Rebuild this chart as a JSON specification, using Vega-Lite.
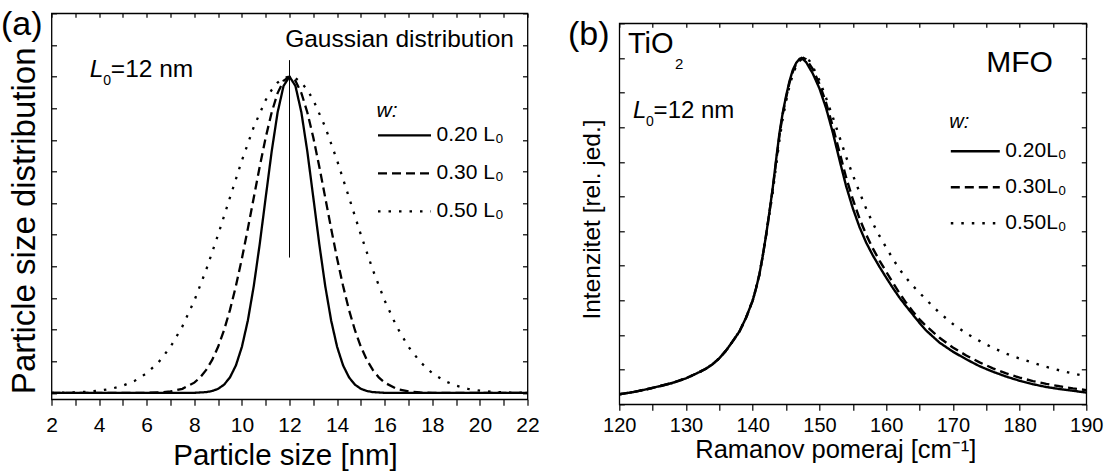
{
"$schema":"https://vega.github.io/schema/vega-lite/v6.json",
"autosize":{"type":"none"},
"padding":{"left":51.5,"top":13.3,"right":1053.5,"bottom":458.7},
"background":"white",
"config":{
 "font":"Liberation Sans",
 "view":{"stroke":"black","strokeWidth":1.3},
 "axis":{"grid":false,"domain":false,"tickColor":"black","tickWidth":1.2,"labelColor":"black","titleColor":"black","titleFontWeight":"normal","labelFont":"Liberation Sans","titleFont":"Liberation Sans"},
 "legend":{"labelColor":"black","titleColor":"black","labelFont":"Liberation Sans","titleFont":"Liberation Sans"},
 "text":{"fill":"black","font":"Liberation Sans","fontWeight":"normal"}
},
"bounds":"flush",
"spacing":91.8,
"resolve":{"scale":{"x":"independent","y":"independent","strokeDash":"independent"},"legend":{"strokeDash":"independent"}},
"hconcat":[
{
 "width":476,"height":386,
 "resolve":{"axis":{"x":"independent","y":"independent"}},
 "layer":[
  {"data":{"name":"ga","values":[
  {"w":"0.20 L₀","x":2,"y":0},{"w":"0.20 L₀","x":7,"y":0},{"w":"0.20 L₀","x":8,"y":0.0005},{"w":"0.20 L₀","x":8.5,"y":0.0027},{"w":"0.20 L₀","x":8.75,"y":0.0062},{"w":"0.20 L₀","x":9,"y":0.0131},{"w":"0.20 L₀","x":9.25,"y":0.0262},{"w":"0.20 L₀","x":9.5,"y":0.0494},{"w":"0.20 L₀","x":9.75,"y":0.0874},{"w":"0.20 L₀","x":10,"y":0.1458},{"w":"0.20 L₀","x":10.25,"y":0.229},{"w":"0.20 L₀","x":10.5,"y":0.3386},{"w":"0.20 L₀","x":10.75,"y":0.4714},{"w":"0.20 L₀","x":11,"y":0.6179},{"w":"0.20 L₀","x":11.25,"y":0.7628},{"w":"0.20 L₀","x":11.5,"y":0.8866},{"w":"0.20 L₀","x":11.75,"y":0.9704},{"w":"0.20 L₀","x":12,"y":1},{"w":"0.20 L₀","x":12.25,"y":0.9704},{"w":"0.20 L₀","x":12.5,"y":0.8866},{"w":"0.20 L₀","x":12.75,"y":0.7628},{"w":"0.20 L₀","x":13,"y":0.6179},{"w":"0.20 L₀","x":13.25,"y":0.4714},{"w":"0.20 L₀","x":13.5,"y":0.3386},{"w":"0.20 L₀","x":13.75,"y":0.229},{"w":"0.20 L₀","x":14,"y":0.1458},{"w":"0.20 L₀","x":14.25,"y":0.0874},{"w":"0.20 L₀","x":14.5,"y":0.0494},{"w":"0.20 L₀","x":14.75,"y":0.0262},{"w":"0.20 L₀","x":15,"y":0.0131},{"w":"0.20 L₀","x":15.25,"y":0.0062},{"w":"0.20 L₀","x":15.5,"y":0.0027},{"w":"0.20 L₀","x":16,"y":0.0005},{"w":"0.20 L₀","x":17,"y":0},{"w":"0.20 L₀","x":22,"y":0},
  {"w":"0.30 L₀","x":2,"y":0},{"w":"0.30 L₀","x":5,"y":0},{"w":"0.30 L₀","x":6,"y":0.0005},{"w":"0.30 L₀","x":6.5,"y":0.0015},{"w":"0.30 L₀","x":7,"y":0.0048},{"w":"0.30 L₀","x":7.5,"y":0.0131},{"w":"0.30 L₀","x":8,"y":0.0326},{"w":"0.30 L₀","x":8.25,"y":0.0494},{"w":"0.30 L₀","x":8.5,"y":0.0728},{"w":"0.30 L₀","x":8.75,"y":0.1044},{"w":"0.30 L₀","x":9,"y":0.1458},{"w":"0.30 L₀","x":9.25,"y":0.1983},{"w":"0.30 L₀","x":9.5,"y":0.2626},{"w":"0.30 L₀","x":9.75,"y":0.3386},{"w":"0.30 L₀","x":10,"y":0.425},{"w":"0.30 L₀","x":10.25,"y":0.5194},{"w":"0.30 L₀","x":10.5,"y":0.618},{"w":"0.30 L₀","x":10.75,"y":0.7159},{"w":"0.30 L₀","x":11,"y":0.8074},{"w":"0.30 L₀","x":11.25,"y":0.8866},{"w":"0.30 L₀","x":11.5,"y":0.9479},{"w":"0.30 L₀","x":11.75,"y":0.9867},{"w":"0.30 L₀","x":12,"y":1},{"w":"0.30 L₀","x":12.25,"y":0.9867},{"w":"0.30 L₀","x":12.5,"y":0.9479},{"w":"0.30 L₀","x":12.75,"y":0.8866},{"w":"0.30 L₀","x":13,"y":0.8074},{"w":"0.30 L₀","x":13.25,"y":0.7159},{"w":"0.30 L₀","x":13.5,"y":0.618},{"w":"0.30 L₀","x":13.75,"y":0.5194},{"w":"0.30 L₀","x":14,"y":0.425},{"w":"0.30 L₀","x":14.25,"y":0.3386},{"w":"0.30 L₀","x":14.5,"y":0.2626},{"w":"0.30 L₀","x":14.75,"y":0.1983},{"w":"0.30 L₀","x":15,"y":0.1458},{"w":"0.30 L₀","x":15.25,"y":0.1044},{"w":"0.30 L₀","x":15.5,"y":0.0728},{"w":"0.30 L₀","x":15.75,"y":0.0494},{"w":"0.30 L₀","x":16,"y":0.0326},{"w":"0.30 L₀","x":16.5,"y":0.0131},{"w":"0.30 L₀","x":17,"y":0.0048},{"w":"0.30 L₀","x":17.5,"y":0.0015},{"w":"0.30 L₀","x":18,"y":0.0005},{"w":"0.30 L₀","x":19,"y":0},{"w":"0.30 L₀","x":22,"y":0},
  {"w":"0.50 L₀","x":2,"y":0.0005},{"w":"0.50 L₀","x":2.5,"y":0.001},{"w":"0.50 L₀","x":3,"y":0.002},{"w":"0.50 L₀","x":3.5,"y":0.0038},{"w":"0.50 L₀","x":4,"y":0.0072},{"w":"0.50 L₀","x":4.5,"y":0.0131},{"w":"0.50 L₀","x":5,"y":0.023},{"w":"0.50 L₀","x":5.5,"y":0.0386},{"w":"0.50 L₀","x":6,"y":0.0625},{"w":"0.50 L₀","x":6.5,"y":0.0973},{"w":"0.50 L₀","x":7,"y":0.1458},{"w":"0.50 L₀","x":7.5,"y":0.2103},{"w":"0.50 L₀","x":8,"y":0.2917},{"w":"0.50 L₀","x":8.5,"y":0.3893},{"w":"0.50 L₀","x":9,"y":0.5},{"w":"0.50 L₀","x":9.5,"y":0.6179},{"w":"0.50 L₀","x":10,"y":0.7349},{"w":"0.50 L₀","x":10.5,"y":0.8409},{"w":"0.50 L₀","x":11,"y":0.9259},{"w":"0.50 L₀","x":11.25,"y":0.9576},{"w":"0.50 L₀","x":11.5,"y":0.9809},{"w":"0.50 L₀","x":11.75,"y":0.9952},{"w":"0.50 L₀","x":12,"y":1},{"w":"0.50 L₀","x":12.25,"y":0.9952},{"w":"0.50 L₀","x":12.5,"y":0.9809},{"w":"0.50 L₀","x":12.75,"y":0.9576},{"w":"0.50 L₀","x":13,"y":0.9259},{"w":"0.50 L₀","x":13.5,"y":0.8409},{"w":"0.50 L₀","x":14,"y":0.7349},{"w":"0.50 L₀","x":14.5,"y":0.6179},{"w":"0.50 L₀","x":15,"y":0.5},{"w":"0.50 L₀","x":15.5,"y":0.3893},{"w":"0.50 L₀","x":16,"y":0.2917},{"w":"0.50 L₀","x":16.5,"y":0.2103},{"w":"0.50 L₀","x":17,"y":0.1458},{"w":"0.50 L₀","x":17.5,"y":0.0973},{"w":"0.50 L₀","x":18,"y":0.0625},{"w":"0.50 L₀","x":18.5,"y":0.0386},{"w":"0.50 L₀","x":19,"y":0.023},{"w":"0.50 L₀","x":19.5,"y":0.0131},{"w":"0.50 L₀","x":20,"y":0.0072},{"w":"0.50 L₀","x":20.5,"y":0.0038},{"w":"0.50 L₀","x":21,"y":0.002},{"w":"0.50 L₀","x":21.5,"y":0.001},{"w":"0.50 L₀","x":22,"y":0.0005}
  ]},
   "mark":{"type":"line","strokeWidth":2.3,"color":"black"},
   "encoding":{
    "x":{"field":"x","type":"quantitative","scale":{"domain":[2,22],"nice":false,"zero":false},
      "axis":{"orient":"bottom","values":[2,3,4,5,6,7,8,9,10,11,12,13,14,15,16,17,18,19,20,21,22],"labelExpr":"datum.value % 2 === 0 ? datum.label : ''","tickSize":6,"labelFontSize":21,"labelPadding":9,"labelFlush":false,"labelOverlap":false,"title":"Particle size [nm]","titleFontSize":29.5,"titleX":233.5,"titleY":64.7,"titleBaseline":"alphabetic","titleAlign":"center"}},
    "y":{"field":"y","type":"quantitative","scale":{"domain":[-0.02,1.2],"nice":false,"zero":false},
      "axis":{"orient":"left","values":[0,0.1,0.2,0.3,0.4,0.5,0.6,0.7,0.8,0.9,1,1.1,1.2],"labels":false,"tickSize":-5,"title":"Particle size distribution","titleFontSize":33,"titleX":-17,"titleY":207,"titleBaseline":"alphabetic","titleAlign":"center","titleAngle":270}},
    "strokeDash":{"field":"w","type":"nominal","scale":{"domain":["0.20 L₀","0.30 L₀","0.50 L₀"],"range":[[1,0],[9,5],[2.5,8]]},
      "legend":{"title":"w:","orient":"none","legendX":325,"legendY":87,"symbolType":"stroke","symbolSize":2809,"symbolStrokeWidth":2.3,"symbolStrokeColor":"black","labelFontSize":21,"titleFontSize":21,"titleFontStyle":"italic","titleFontWeight":"normal","labelOffset":4,"rowPadding":-6.5,"titlePadding":-14}}
   }},
  {"data":{"name":"ga"},
   "mark":{"type":"point","opacity":0},
   "encoding":{
    "x":{"field":"x","type":"quantitative","axis":{"orient":"top","values":[2,3,4,5,6,7,8,9,10,11,12,13,14,15,16,17,18,19,20,21,22],"labels":false,"tickSize":-4,"title":null}},
    "y":{"field":"y","type":"quantitative","axis":{"orient":"right","values":[0,0.1,0.2,0.3,0.4,0.5,0.6,0.7,0.8,0.9,1,1.1,1.2],"labels":false,"tickSize":-5,"title":null}}
   }},
  {"data":{"values":[{}]},
   "mark":{"type":"rule","strokeWidth":1,"color":"black"},
   "encoding":{"x":{"datum":12,"type":"quantitative","axis":null},"y":{"datum":1.052,"type":"quantitative","axis":null},"y2":{"datum":0.428}}},
  {"data":{"values":[{}]},
   "mark":{"type":"text","text":"(a)","fontSize":34,"fontWeight":"normal","align":"left","baseline":"alphabetic"},
   "encoding":{"x":{"datum":-0.12,"type":"quantitative","axis":null},"y":{"datum":1.132,"type":"quantitative","axis":null}}},
  {"data":{"values":[{}]},
   "mark":{"type":"text","text":"Gaussian distribution","fontSize":24.5,"fontWeight":"normal","align":"right","baseline":"alphabetic"},
   "encoding":{"x":{"datum":21.43,"type":"quantitative","axis":null},"y":{"datum":1.094,"type":"quantitative","axis":null}}},
  {"data":{"values":[{}]},
   "mark":{"type":"text","text":"L","fontSize":24.5,"fontWeight":"normal","fontStyle":"italic","align":"left","baseline":"alphabetic"},
   "encoding":{"x":{"datum":3.61,"type":"quantitative","axis":null},"y":{"datum":1.0,"type":"quantitative","axis":null}}},
  {"data":{"values":[{}]},
   "mark":{"type":"text","text":"0","fontSize":14,"fontWeight":"normal","align":"left","baseline":"alphabetic","dx":13.5,"dy":8},
   "encoding":{"x":{"datum":3.61,"type":"quantitative","axis":null},"y":{"datum":1.0,"type":"quantitative","axis":null}}},
  {"data":{"values":[{}]},
   "mark":{"type":"text","text":"=12 nm","fontSize":24.5,"fontWeight":"normal","align":"left","baseline":"alphabetic","dx":21},
   "encoding":{"x":{"datum":3.61,"type":"quantitative","axis":null},"y":{"datum":1.0,"type":"quantitative","axis":null}}}
 ]
},
{
 "spacing":0,
 "bounds":"flush",
 "resolve":{"scale":{"x":"independent","y":"independent","strokeDash":"independent"},"legend":{"strokeDash":"independent"}},
 "vconcat":[
  {"width":1,"height":10,"view":{"stroke":null},"data":{"values":[{"a":1}]},"mark":{"type":"point","opacity":0},"encoding":{}},
  {
   "width":467,"height":381,
   "resolve":{"axis":{"x":"independent","y":"independent"}},
   "layer":[
    {"data":{"name":"rb","values":[
    {"w":"0.20L₀","x":120,"y":0.029},{"w":"0.20L₀","x":122,"y":0.035},{"w":"0.20L₀","x":124,"y":0.043},{"w":"0.20L₀","x":126,"y":0.052},{"w":"0.20L₀","x":128,"y":0.062},{"w":"0.20L₀","x":130,"y":0.075},{"w":"0.20L₀","x":132,"y":0.093},{"w":"0.20L₀","x":133,"y":0.103},{"w":"0.20L₀","x":134,"y":0.116},{"w":"0.20L₀","x":135,"y":0.133},{"w":"0.20L₀","x":136,"y":0.155},{"w":"0.20L₀","x":137,"y":0.182},{"w":"0.20L₀","x":138,"y":0.21},{"w":"0.20L₀","x":139,"y":0.25},{"w":"0.20L₀","x":140,"y":0.3},{"w":"0.20L₀","x":140.5,"y":0.335},{"w":"0.20L₀","x":141,"y":0.375},{"w":"0.20L₀","x":141.5,"y":0.428},{"w":"0.20L₀","x":142,"y":0.488},{"w":"0.20L₀","x":142.5,"y":0.555},{"w":"0.20L₀","x":143,"y":0.625},{"w":"0.20L₀","x":143.5,"y":0.705},{"w":"0.20L₀","x":144,"y":0.782},{"w":"0.20L₀","x":144.5,"y":0.842},{"w":"0.20L₀","x":145,"y":0.89},{"w":"0.20L₀","x":145.5,"y":0.932},{"w":"0.20L₀","x":146,"y":0.965},{"w":"0.20L₀","x":146.5,"y":0.985},{"w":"0.20L₀","x":147,"y":0.997},{"w":"0.20L₀","x":147.3,"y":1},{"w":"0.20L₀","x":148,"y":0.988},{"w":"0.20L₀","x":149,"y":0.955},{"w":"0.20L₀","x":150,"y":0.912},{"w":"0.20L₀","x":151,"y":0.855},{"w":"0.20L₀","x":152,"y":0.785},{"w":"0.20L₀","x":153,"y":0.706},{"w":"0.20L₀","x":154,"y":0.63},{"w":"0.20L₀","x":155,"y":0.566},{"w":"0.20L₀","x":156,"y":0.512},{"w":"0.20L₀","x":157,"y":0.467},{"w":"0.20L₀","x":158,"y":0.43},{"w":"0.20L₀","x":159,"y":0.397},{"w":"0.20L₀","x":160,"y":0.366},{"w":"0.20L₀","x":161,"y":0.336},{"w":"0.20L₀","x":162,"y":0.308},{"w":"0.20L₀","x":163,"y":0.283},{"w":"0.20L₀","x":164,"y":0.259},{"w":"0.20L₀","x":165,"y":0.235},{"w":"0.20L₀","x":166,"y":0.213},{"w":"0.20L₀","x":168,"y":0.178},{"w":"0.20L₀","x":170,"y":0.152},{"w":"0.20L₀","x":172,"y":0.13},{"w":"0.20L₀","x":174,"y":0.11},{"w":"0.20L₀","x":176,"y":0.094},{"w":"0.20L₀","x":178,"y":0.08},{"w":"0.20L₀","x":180,"y":0.068},{"w":"0.20L₀","x":182,"y":0.058},{"w":"0.20L₀","x":184,"y":0.05},{"w":"0.20L₀","x":186,"y":0.044},{"w":"0.20L₀","x":188,"y":0.039},{"w":"0.20L₀","x":190,"y":0.034},
    {"w":"0.30L₀","x":120,"y":0.029},{"w":"0.30L₀","x":122,"y":0.035},{"w":"0.30L₀","x":124,"y":0.043},{"w":"0.30L₀","x":126,"y":0.052},{"w":"0.30L₀","x":128,"y":0.062},{"w":"0.30L₀","x":130,"y":0.075},{"w":"0.30L₀","x":132,"y":0.093},{"w":"0.30L₀","x":133,"y":0.103},{"w":"0.30L₀","x":134,"y":0.116},{"w":"0.30L₀","x":135,"y":0.133},{"w":"0.30L₀","x":136,"y":0.155},{"w":"0.30L₀","x":137,"y":0.182},{"w":"0.30L₀","x":138,"y":0.21},{"w":"0.30L₀","x":139,"y":0.25},{"w":"0.30L₀","x":140,"y":0.3},{"w":"0.30L₀","x":140.5,"y":0.335},{"w":"0.30L₀","x":141,"y":0.375},{"w":"0.30L₀","x":141.5,"y":0.428},{"w":"0.30L₀","x":142,"y":0.488},{"w":"0.30L₀","x":142.5,"y":0.553},{"w":"0.30L₀","x":143,"y":0.622},{"w":"0.30L₀","x":143.5,"y":0.7},{"w":"0.30L₀","x":144,"y":0.775},{"w":"0.30L₀","x":144.5,"y":0.838},{"w":"0.30L₀","x":145,"y":0.885},{"w":"0.30L₀","x":145.5,"y":0.928},{"w":"0.30L₀","x":146,"y":0.96},{"w":"0.30L₀","x":146.5,"y":0.982},{"w":"0.30L₀","x":147,"y":0.995},{"w":"0.30L₀","x":147.6,"y":1},{"w":"0.30L₀","x":148,"y":0.996},{"w":"0.30L₀","x":149,"y":0.968},{"w":"0.30L₀","x":150,"y":0.925},{"w":"0.30L₀","x":151,"y":0.87},{"w":"0.30L₀","x":152,"y":0.802},{"w":"0.30L₀","x":153,"y":0.728},{"w":"0.30L₀","x":154,"y":0.655},{"w":"0.30L₀","x":155,"y":0.592},{"w":"0.30L₀","x":156,"y":0.537},{"w":"0.30L₀","x":157,"y":0.49},{"w":"0.30L₀","x":158,"y":0.45},{"w":"0.30L₀","x":159,"y":0.415},{"w":"0.30L₀","x":160,"y":0.383},{"w":"0.30L₀","x":161,"y":0.351},{"w":"0.30L₀","x":162,"y":0.321},{"w":"0.30L₀","x":163,"y":0.293},{"w":"0.30L₀","x":164,"y":0.268},{"w":"0.30L₀","x":165,"y":0.245},{"w":"0.30L₀","x":166,"y":0.226},{"w":"0.30L₀","x":168,"y":0.192},{"w":"0.30L₀","x":170,"y":0.164},{"w":"0.30L₀","x":172,"y":0.141},{"w":"0.30L₀","x":174,"y":0.121},{"w":"0.30L₀","x":176,"y":0.104},{"w":"0.30L₀","x":178,"y":0.089},{"w":"0.30L₀","x":180,"y":0.077},{"w":"0.30L₀","x":182,"y":0.067},{"w":"0.30L₀","x":184,"y":0.059},{"w":"0.30L₀","x":186,"y":0.052},{"w":"0.30L₀","x":188,"y":0.046},{"w":"0.30L₀","x":190,"y":0.041},
    {"w":"0.50L₀","x":120,"y":0.029},{"w":"0.50L₀","x":122,"y":0.035},{"w":"0.50L₀","x":124,"y":0.043},{"w":"0.50L₀","x":126,"y":0.052},{"w":"0.50L₀","x":128,"y":0.062},{"w":"0.50L₀","x":130,"y":0.075},{"w":"0.50L₀","x":132,"y":0.093},{"w":"0.50L₀","x":133,"y":0.103},{"w":"0.50L₀","x":134,"y":0.116},{"w":"0.50L₀","x":135,"y":0.133},{"w":"0.50L₀","x":136,"y":0.155},{"w":"0.50L₀","x":137,"y":0.182},{"w":"0.50L₀","x":138,"y":0.21},{"w":"0.50L₀","x":139,"y":0.25},{"w":"0.50L₀","x":140,"y":0.3},{"w":"0.50L₀","x":140.5,"y":0.335},{"w":"0.50L₀","x":141,"y":0.375},{"w":"0.50L₀","x":141.5,"y":0.428},{"w":"0.50L₀","x":142,"y":0.488},{"w":"0.50L₀","x":142.5,"y":0.548},{"w":"0.50L₀","x":143,"y":0.612},{"w":"0.50L₀","x":143.5,"y":0.688},{"w":"0.50L₀","x":144,"y":0.762},{"w":"0.50L₀","x":144.5,"y":0.825},{"w":"0.50L₀","x":145,"y":0.875},{"w":"0.50L₀","x":145.5,"y":0.918},{"w":"0.50L₀","x":146,"y":0.952},{"w":"0.50L₀","x":146.5,"y":0.976},{"w":"0.50L₀","x":147,"y":0.991},{"w":"0.50L₀","x":147.5,"y":0.999},{"w":"0.50L₀","x":147.9,"y":1},{"w":"0.50L₀","x":148.5,"y":0.992},{"w":"0.50L₀","x":149,"y":0.975},{"w":"0.50L₀","x":150,"y":0.935},{"w":"0.50L₀","x":151,"y":0.884},{"w":"0.50L₀","x":152,"y":0.829},{"w":"0.50L₀","x":153,"y":0.772},{"w":"0.50L₀","x":154,"y":0.714},{"w":"0.50L₀","x":155,"y":0.662},{"w":"0.50L₀","x":156,"y":0.613},{"w":"0.50L₀","x":157,"y":0.565},{"w":"0.50L₀","x":158,"y":0.523},{"w":"0.50L₀","x":159,"y":0.486},{"w":"0.50L₀","x":160,"y":0.453},{"w":"0.50L₀","x":161,"y":0.42},{"w":"0.50L₀","x":162,"y":0.39},{"w":"0.50L₀","x":163,"y":0.365},{"w":"0.50L₀","x":164,"y":0.342},{"w":"0.50L₀","x":166,"y":0.302},{"w":"0.50L₀","x":168,"y":0.264},{"w":"0.50L₀","x":170,"y":0.232},{"w":"0.50L₀","x":172,"y":0.205},{"w":"0.50L₀","x":174,"y":0.183},{"w":"0.50L₀","x":176,"y":0.163},{"w":"0.50L₀","x":178,"y":0.146},{"w":"0.50L₀","x":180,"y":0.132},{"w":"0.50L₀","x":182,"y":0.12},{"w":"0.50L₀","x":184,"y":0.108},{"w":"0.50L₀","x":186,"y":0.098},{"w":"0.50L₀","x":188,"y":0.089},{"w":"0.50L₀","x":190,"y":0.081}
    ]},
     "mark":{"type":"line","strokeWidth":2.4,"color":"black"},
     "encoding":{
      "x":{"field":"x","type":"quantitative","scale":{"domain":[120,190],"nice":false,"zero":false},
        "axis":{"orient":"bottom","values":[120,125,130,135,140,145,150,155,160,165,170,175,180,185,190],"labelExpr":"datum.value % 10 === 0 ? datum.label : ''","tickSize":6,"labelFontSize":20,"labelPadding":5,"labelFlush":false,"labelOverlap":false,"title":"Ramanov pomeraj [cm⁻¹]","titleFontSize":25.5,"titleX":216,"titleY":53.4,"titleBaseline":"alphabetic","titleAlign":"center"}},
      "y":{"field":"y","type":"quantitative","scale":{"domain":[0,1.1],"nice":false,"zero":false},
        "axis":{"orient":"left","values":[0,0.1,0.2,0.3,0.4,0.5,0.6,0.7,0.8,0.9,1,1.1],"labels":false,"tickSize":-5,"title":"Intenzitet [rel. jed.]","titleFontSize":24.5,"titleX":-19.5,"titleY":195.7,"titleBaseline":"alphabetic","titleAlign":"center","titleAngle":270}},
      "strokeDash":{"field":"w","type":"nominal","scale":{"domain":["0.20L₀","0.30L₀","0.50L₀"],"range":[[1,0],[9,5],[2.5,8]]},
        "legend":{"title":"w:","orient":"none","legendX":330,"legendY":89,"symbolType":"stroke","symbolSize":2400,"symbolStrokeWidth":2.4,"symbolStrokeColor":"black","labelFontSize":21,"titleFontSize":20,"titleFontStyle":"italic","titleFontWeight":"normal","labelOffset":4,"rowPadding":-7,"titlePadding":-7}}
     }},
    {"data":{"name":"rb"},
     "mark":{"type":"point","opacity":0},
     "encoding":{
      "x":{"field":"x","type":"quantitative","axis":{"orient":"top","values":[120,125,130,135,140,145,150,155,160,165,170,175,180,185,190],"labels":false,"tickSize":-4,"title":null}},
      "y":{"field":"y","type":"quantitative","axis":{"orient":"right","values":[0,0.1,0.2,0.3,0.4,0.5,0.6,0.7,0.8,0.9,1,1.1],"labels":false,"tickSize":-5,"title":null}}
     }},
    {"data":{"values":[{}]},
     "mark":{"type":"text","text":"(b)","fontSize":34,"fontWeight":"normal","align":"left","baseline":"alphabetic"},
     "encoding":{"x":{"datum":112.3,"type":"quantitative","axis":null},"y":{"datum":1.036,"type":"quantitative","axis":null}}},
    {"data":{"values":[{}]},
     "mark":{"type":"text","text":"TiO","fontSize":29,"fontWeight":"normal","align":"left","baseline":"alphabetic"},
     "encoding":{"x":{"datum":121.3,"type":"quantitative","axis":null},"y":{"datum":1.014,"type":"quantitative","axis":null}}},
    {"data":{"values":[{}]},
     "mark":{"type":"text","text":"2","fontSize":15,"fontWeight":"normal","align":"left","baseline":"alphabetic","dx":47,"dy":16},
     "encoding":{"x":{"datum":121.3,"type":"quantitative","axis":null},"y":{"datum":1.014,"type":"quantitative","axis":null}}},
    {"data":{"values":[{}]},
     "mark":{"type":"text","text":"MFO","fontSize":30,"fontWeight":"normal","align":"right","baseline":"alphabetic"},
     "encoding":{"x":{"datum":185.0,"type":"quantitative","axis":null},"y":{"datum":0.96,"type":"quantitative","axis":null}}},
    {"data":{"values":[{}]},
     "mark":{"type":"text","text":"L","fontSize":24,"fontWeight":"normal","fontStyle":"italic","align":"left","baseline":"alphabetic"},
     "encoding":{"x":{"datum":122.07,"type":"quantitative","axis":null},"y":{"datum":0.826,"type":"quantitative","axis":null}}},
    {"data":{"values":[{}]},
     "mark":{"type":"text","text":"0","fontSize":14,"fontWeight":"normal","align":"left","baseline":"alphabetic","dx":13,"dy":8},
     "encoding":{"x":{"datum":122.07,"type":"quantitative","axis":null},"y":{"datum":0.826,"type":"quantitative","axis":null}}},
    {"data":{"values":[{}]},
     "mark":{"type":"text","text":"=12 nm","fontSize":24,"fontWeight":"normal","align":"left","baseline":"alphabetic","dx":20.5},
     "encoding":{"x":{"datum":122.07,"type":"quantitative","axis":null},"y":{"datum":0.826,"type":"quantitative","axis":null}}}
   ]
  }
 ]
}
]
}
